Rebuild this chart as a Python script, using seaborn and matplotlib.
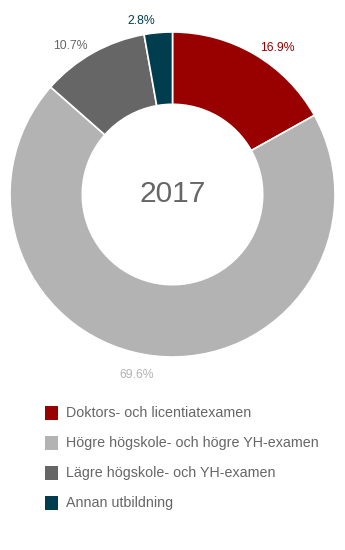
import matplotlib
matplotlib.use("Agg")
import matplotlib.pyplot as plt
from matplotlib.patches import Rectangle
import numpy as np
import seaborn as sns

sns.set_theme(style="white")
plt.rcParams["font.family"] = ["Liberation Sans", "DejaVu Sans"]

year = "2017"
categories = [
    "Doktors- och licentiatexamen",
    "Högre högskole- och högre YH-examen",
    "Lägre högskole- och YH-examen",
    "Annan utbildning",
]
shares = [16.9, 69.6, 10.7, 2.8]
colors = ["#990000", "#b3b3b3", "#666666", "#003d4f"]
label_colors = ["#990000", "#b3b3b3", "#666666", "#003d4f"]

W, H = 345, 550
fig = plt.figure(figsize=(W / 100, H / 100), dpi=100)
fig.patch.set_facecolor("white")

# square axes holding the donut
cx, cy, r = 172.5, 194.5, 162.5
ax = fig.add_axes([(cx - r) / W, (H - cy - r) / H, 2 * r / W, 2 * r / H])

wedges, _ = ax.pie(
    shares,
    colors=colors,
    startangle=90,
    counterclock=False,
    radius=1,
    wedgeprops=dict(width=0.445, edgecolor="white", linewidth=1.2),
)
ax.set_xlim(-1, 1)
ax.set_ylim(-1, 1)
ax.set_aspect("auto")
ax.axis("off")

ax.text(0, 0.005, year, ha="center", va="center", fontsize=21.5, color="#666666")

# percentage labels outside the ring
total = sum(shares)
cum = 0.0
nudges = [5, 5, -5, -5]
radii = [1.11, 1.13, 1.11, 1.085]
for val, col, nd, rr in zip(shares, label_colors, nudges, radii):
    mid = (cum + val / 2) / total * 360
    cum += val
    ang = np.deg2rad(mid + nd)
    x, y = rr * np.sin(ang), rr * np.cos(ang)
    ax.text(x, y, f"{val:.1f}%", ha="center", va="center",
            fontsize=8.8, color=col, clip_on=False)

# legend rows
row0, step = 413, 30
for i, (cat, col) in enumerate(zip(categories, colors)):
    yc = row0 + i * step
    fig.patches.append(Rectangle((45 / W, (H - yc - 7) / H), 13 / W, 14 / H,
                                 transform=fig.transFigure, facecolor=col,
                                 edgecolor="none"))
    fig.text(66 / W, (H - yc) / H, cat, ha="left", va="center",
             fontsize=10.3, color="#666666")

fig.savefig("out.png", dpi=100, facecolor="white")
